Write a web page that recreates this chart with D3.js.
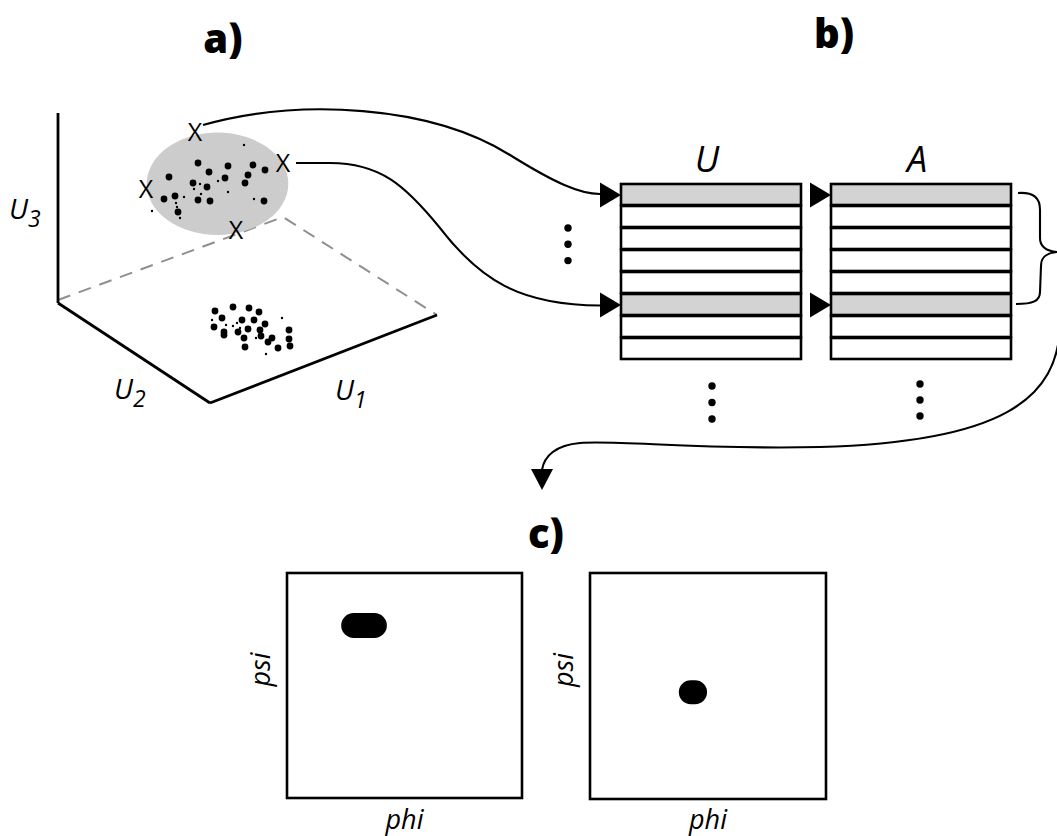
<!DOCTYPE html>
<html>
<head>
<meta charset="utf-8">
<script src="https://cdn.jsdelivr.net/npm/d3@7"></script>
<style>
  html, body { margin: 0; padding: 0; background: #fff; }
  svg { display: block; font-family: "Open Sans", "Noto Sans", sans-serif; }
</style>
</head>
<body>
<svg id="fig" width="1057" height="836"></svg>
<script>
// ---- Panel a: projected positions of conformations in (U1,U2,U3) space ----
// coordinates are in the projected frame of the 3D box (origin at the back corner)
const upperLarge = [
  [140,140],[151,131],[170,137],[195,138],[207,133],[111,126],[135,120],[149,116],
  [167,125],[190,128],[187,120],[106,104],[117,107],[140,103],[152,102],[206,102],[120,91]
];
const upperSmall = [
  [186,158],[142,119],[136,114],[160,122],[143,109],[170,111],[126,106],[196,104],
  [94,92],[118,100],[119,96],[122,85]
];
const floorLarge = [
  [157,-8],[175,-4],[191,-5],[201,-9],[164,-15],[184,-17],[196,-17],[156,-24],
  [166,-29],[166,-32],[180,-29],[190,-26],[202,-27],[207,-21],[186,-35],[203,-33],
  [231,-27],[231,-36],[232,-43],[210,-39],[214,-35],[220,-45],[187,-44]
];
const floorSmall = [
  [154,-17],[168,-22],[175,-23],[179,-20],[224,-15],[198,-35],[208,-51],[182,-25]
];
// selected boundary conformations marked with X
const markers = [[137,172],[225,141],[88,115],[178,74]];
// box edges
const axisVertical = [[0,190],[0,0]];
const axisU2 = [[0,0],[152,-100]];
const axisU1 = [[152,-100],[379,-12]];
const floorDashed = [[0,3],[225,86],[379,-12]];
const cloud = {cx: 159.5, cy: 119.2, rx: 70.8, ry: 51.2};

// ---- Panel b: stored frames (U) and attribute rows (A) ----
const rowCount = 8;
const selectedRows = [0, 5];
const columnNames = ["U", "A"];

// ---- Panel c: Ramachandran maps (phi, psi in degrees) ----
const ramaRegions = [
  {phi: -62, psi: 96, w: 70, h: 40},
  {phi: -23, psi: -10, w: 43, h: 38}
];

const svg = d3.select("#fig");

// scales for panel a
const xA = d3.scaleLinear().domain([0, 380]).range([58, 438]);
const yA = d3.scaleLinear().domain([0, 190]).range([303, 113]);
const lineA = d3.line().x(d => xA(d[0])).y(d => yA(d[1]));

const gA = svg.append("g");
gA.append("path").attr("d", lineA(floorDashed))
  .attr("fill", "none").attr("stroke", "#8f8f8f").attr("stroke-width", 2)
  .attr("stroke-dasharray", "13,9");
gA.append("ellipse")
  .attr("cx", xA(cloud.cx)).attr("cy", yA(cloud.cy))
  .attr("rx", xA(cloud.cx + cloud.rx) - xA(cloud.cx))
  .attr("ry", yA(cloud.cy) - yA(cloud.cy + cloud.ry))
  .attr("fill", "#cccccc");
[axisVertical, axisU2, axisU1].forEach(a => {
  gA.append("path").attr("d", lineA(a)).attr("fill", "none")
    .attr("stroke", "#000").attr("stroke-width", 2.8);
});
function dots(data, r) {
  gA.append("g").selectAll("circle").data(data).join("circle")
    .attr("cx", d => xA(d[0])).attr("cy", d => yA(d[1])).attr("r", r).attr("fill", "#000");
}
dots(upperLarge, 3.4); dots(upperSmall, 1.2);
dots(floorLarge, 3.4); dots(floorSmall, 1.2);
gA.append("g").selectAll("text").data(markers).join("text")
  .attr("x", d => xA(d[0])).attr("y", d => yA(d[1]))
  .attr("text-anchor", "middle").attr("dominant-baseline", "central")
  .attr("font-size", 25).attr("font-weight", 400).text("X");

// axis labels with subscripts
function subLabel(x, y, main, sub) {
  const t = svg.append("text").attr("x", x).attr("y", y)
    .attr("font-style", "italic").attr("font-size", 28);
  t.append("tspan").text(main);
  t.append("tspan").attr("font-size", 23).attr("dy", 8).text(sub);
}
subLabel(9, 219, "U", "3");
subLabel(114, 399, "U", "2");
subLabel(335, 400, "U", "1");

// panel titles
[["a)", 223, 53], ["b)", 834, 48], ["c)", 546, 548]].forEach(([t, x, y]) => {
  svg.append("text").attr("x", x).attr("y", y).attr("text-anchor", "middle")
    .attr("font-size", 40).attr("font-weight", 800).text(t);
});

// ---- panel b table ----
const colX = d3.scaleOrdinal().domain(columnNames).range([621, 831]);
const colW = 180;
const rowY = d3.scaleLinear().domain([0, rowCount]).range([184, 360]);
const gB = svg.append("g");
columnNames.forEach(c => {
  gB.append("g").selectAll("rect").data(d3.range(rowCount)).join("rect")
    .attr("x", colX(c)).attr("y", i => rowY(i))
    .attr("width", colW).attr("height", i => rowY(i + 1) - rowY(i) - 1)
    .attr("fill", i => selectedRows.includes(i) ? "#d3d3d3" : "#fff")
    .attr("stroke", "#000").attr("stroke-width", 2.6);
  gB.append("text").attr("x", colX(c) + colW / 2 - 4).attr("y", 172)
    .attr("text-anchor", "middle").attr("font-style", "italic")
    .attr("font-size", 36).text(c);
  // arrowheads into the selected rows
  selectedRows.forEach(i => {
    const x0 = colX(c), ym = (rowY(i) + rowY(i + 1)) / 2;
    gB.append("path")
      .attr("d", `M${x0 - 21},${ym - 12.5}L${x0},${ym}L${x0 - 21},${ym + 12.5}Z`)
      .attr("fill", "#000");
  });
});

// ellipsis dots
function vdots(x, y0, step) {
  svg.append("g").selectAll("circle").data([0, 1, 2]).join("circle")
    .attr("cx", x).attr("cy", k => y0 + k * step).attr("r", 3.7).attr("fill", "#000");
}
vdots(568, 228, 16.3);
vdots(712, 386, 16.5);
vdots(920, 384, 16);

// connecting curves from the marked conformations to the rows
const link = svg.append("g").attr("fill", "none").attr("stroke", "#000").attr("stroke-width", 2.1);
link.append("path").attr("d", "M203,125 C300,98 430,105 510,155 C555,183 580,194 600,194");
link.append("path").attr("d", "M296,163 L330,163 C380,163 405,185 440,228 C480,280 520,305 600,305.5");

// brace grouping the selected attribute rows
link.append("path").attr("d",
  "M1018,193 C1034,192 1040,198 1040,210 L1040,238 C1040,247 1046,251 1057,252 " +
  "C1046,253 1041,257 1041,266 L1040,292 C1040,301 1033,304 1016,304");

// curve leading to the maps
link.append("path").attr("d",
  "M1060,322 C1060,400 1000,442 820,447 C700,450 620,440 580,443 C556,445 544,456 542,470");
svg.append("path").attr("d", "M531,469L553,469L542,490Z").attr("fill", "#000");

// ---- panel c maps ----
const panels = [{x: 287, y: 573, w: 235, h: 225}, {x: 590, y: 573, w: 236, h: 226}];
panels.forEach((p, i) => {
  const g = svg.append("g");
  const phi = d3.scaleLinear().domain([-180, 180]).range([p.x, p.x + p.w]);
  const psi = d3.scaleLinear().domain([-180, 180]).range([p.y + p.h, p.y]);
  g.append("rect").attr("x", p.x).attr("y", p.y).attr("width", p.w).attr("height", p.h)
    .attr("fill", "#fff").attr("stroke", "#000").attr("stroke-width", 2.6);
  const r = ramaRegions[i];
  const w = phi(r.phi + r.w / 2) - phi(r.phi - r.w / 2);
  const h = psi(r.psi - r.h / 2) - psi(r.psi + r.h / 2);
  g.append("rect")
    .attr("x", phi(r.phi) - w / 2).attr("y", psi(r.psi) - h / 2)
    .attr("width", w).attr("height", h)
    .attr("rx", Math.min(w, h) / 2).attr("ry", h / 2).attr("fill", "#000");
  g.append("text").attr("x", p.x + p.w / 2).attr("y", 829)
    .attr("text-anchor", "middle").attr("font-style", "italic").attr("font-size", 27).text("phi");
  g.append("text")
    .attr("transform", `translate(${p.x - 17},${p.y + p.h / 2 - 16}) rotate(-90)`)
    .attr("text-anchor", "middle").attr("font-style", "italic").attr("font-size", 27).text("psi");
});
</script>
</body>
</html>
